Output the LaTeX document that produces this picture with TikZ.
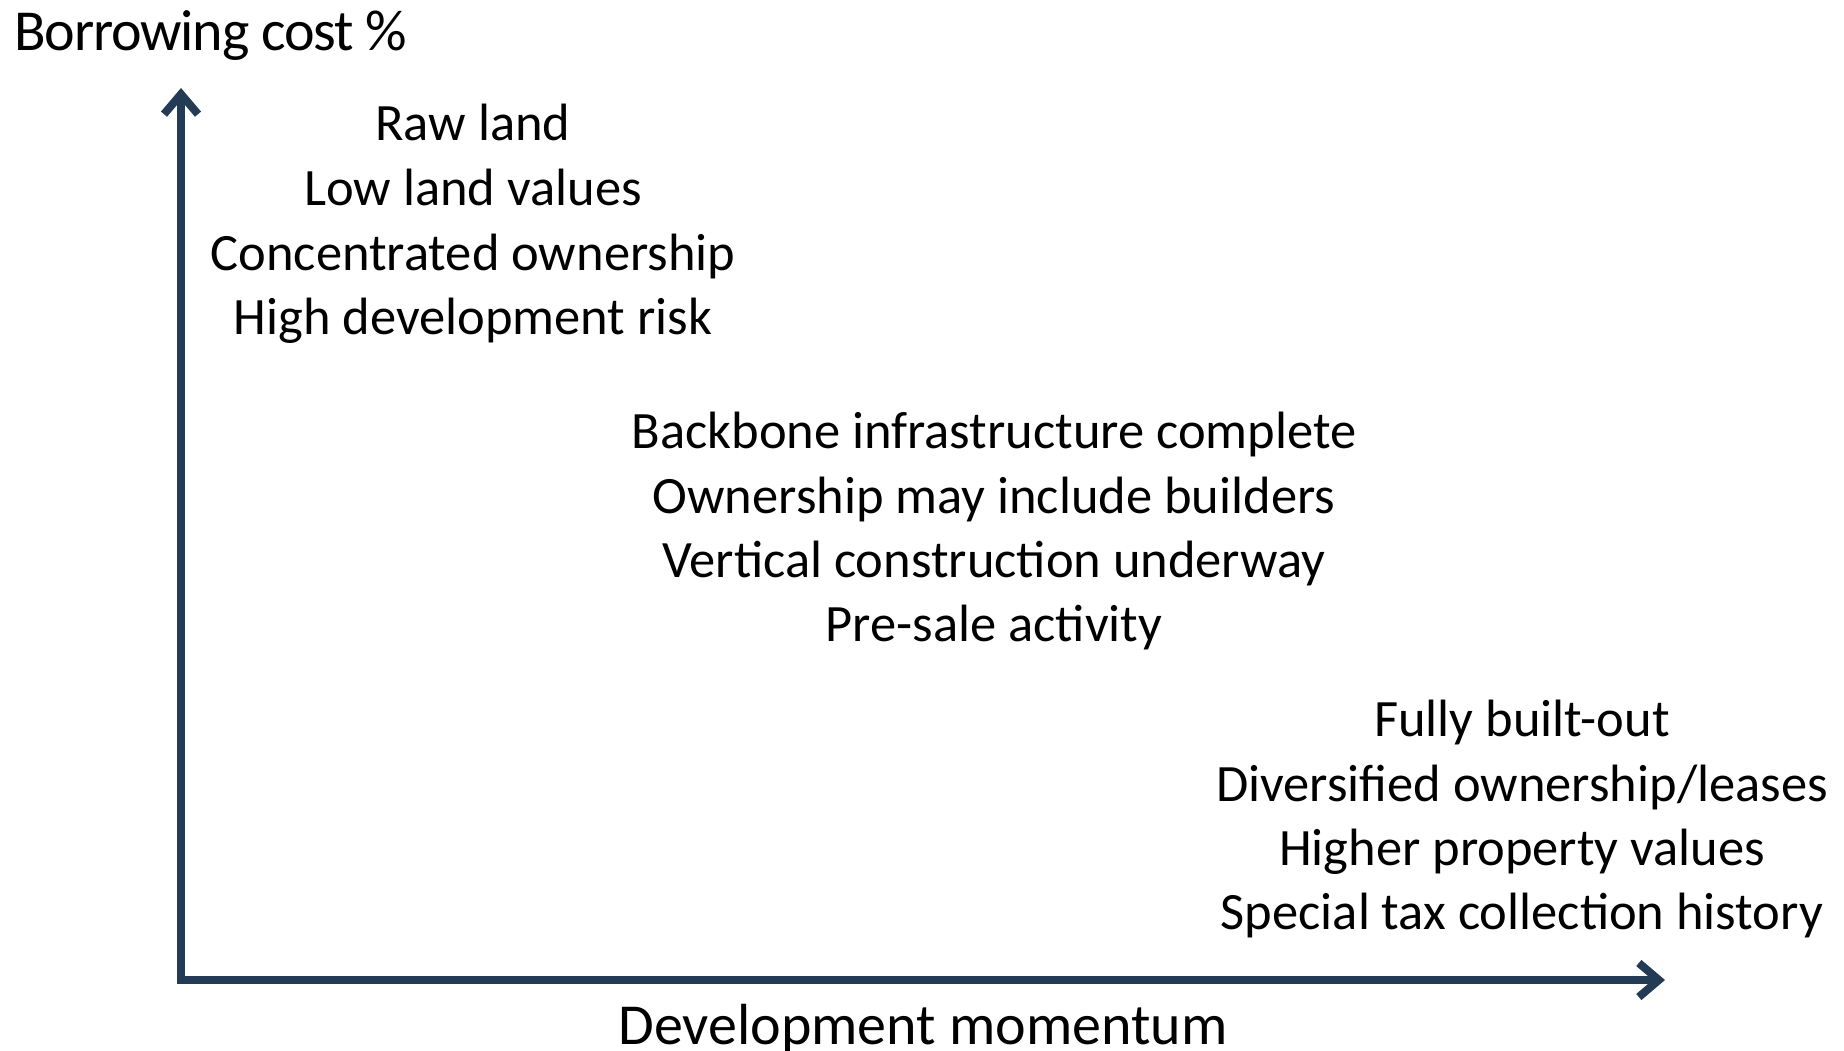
\documentclass[tikz,border=0pt]{standalone}
\usepackage{fontspec}
\setmainfont{Carlito}
\usetikzlibrary{arrows.meta}
\definecolor{axisnavy}{RGB}{36,59,85}
\tikzset{
  axisline/.style={draw=axisnavy, line width=8pt, line cap=butt,
    -{Straight Barb[length=20pt,width=34pt,line join=miter]}},
  itemtext/.style={anchor=base, inner sep=0pt, font=\fontsize{52.5pt}{64pt}\selectfont},
  axistext/.style={inner sep=0pt, font=\fontsize{58pt}{64pt}\selectfont}
}
\begin{document}
\begin{tikzpicture}[x=1pt,y=-1pt]
  \useasboundingbox (0,0) rectangle (1844,1051);
  % axes
  \coordinate (origin) at (181,984);
  \coordinate (ytop) at (181,88);
  \coordinate (xstart) at (177,980);
  \coordinate (xend) at (1665,980);
  \draw[axisline] (origin) -- (ytop);
  \draw[axisline] (xstart) -- (xend);
  % axis labels
  \node[axistext, anchor=base west, font=\fontsize{58pt}{64pt}\selectfont\addfontfeature{LetterSpace=-2}]
    (ylab) at (14,51) {Borrowing cost \%};
  \node[axistext, anchor=base] (xlab) at (923,1044) {Development momentum};
  % early stage
  \node[itemtext] (a1) at (473,141) {Raw land};
  \node[itemtext] (a2) at (473,206) {Low land values};
  \node[itemtext] (a3) at (473,270) {Concentrated ownership};
  \node[itemtext] (a4) at (473,334) {High development risk};
  % middle stage
  \node[itemtext] (b1) at (994,448) {Backbone infrastructure complete};
  \node[itemtext] (b2) at (994,513) {Ownership may include builders};
  \node[itemtext] (b3) at (994,577) {Vertical construction underway};
  \node[itemtext] (b4) at (994,641) {Pre-sale activity};
  % mature stage
  \node[itemtext] (c1) at (1522,736) {Fully built-out};
  \node[itemtext] (c2) at (1522,801) {Diversified ownership/leases};
  \node[itemtext] (c3) at (1522,865) {Higher property values};
  \node[itemtext] (c4) at (1522,929) {Special tax collection history};
\end{tikzpicture}
\end{document}
